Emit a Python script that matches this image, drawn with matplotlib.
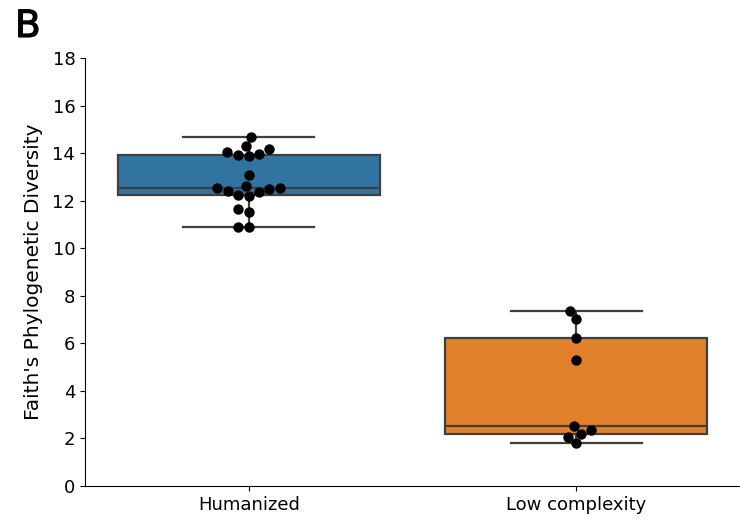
import matplotlib
matplotlib.use("Agg")
import matplotlib.pyplot as plt
import seaborn as sns
import pandas as pd

# Faith's PD per sample, by community type
groups = ["Humanized", "Low complexity"]
humanized_pd = [14.69, 14.30, 14.18, 14.05, 13.97, 13.92, 13.88, 13.08,
                12.62, 12.55, 12.52, 12.50, 12.42, 12.35, 12.25, 12.20,
                11.63, 11.54, 10.90, 10.90]
low_complexity_pd = [7.37, 7.01, 6.24, 5.30, 2.52, 2.36, 2.19, 2.07, 1.79]
y_ticks = [0, 2, 4, 6, 8, 10, 12, 14, 16, 18]

df = pd.DataFrame({
    "group": [groups[0]] * len(humanized_pd) + [groups[1]] * len(low_complexity_pd),
    "pd": humanized_pd + low_complexity_pd,
})

fig = plt.figure(figsize=(7.4, 5.2), dpi=100)
ax = fig.add_axes([85 / 740, 34 / 520, 655 / 740, 428 / 520])

sns.boxplot(data=df, x="group", y="pd", hue="group", order=groups,
            palette=["#1f77b4", "#ff7f0e"], saturation=0.75, showfliers=False,
            width=0.8, linewidth=1.6, ax=ax, legend=False)
sns.swarmplot(data=df, x="group", y="pd", order=groups, color="black",
              size=7.5, ax=ax)

ax.set_ylim(0, 18)
ax.set_xlim(-0.5, 1.5)
ax.set_yticks(y_ticks)
ax.tick_params(axis="both", labelsize=13)
ax.set_xlabel("")
ax.set_ylabel("Faith's Phylogenetic Diversity", fontsize=14.5, labelpad=7)
ax.spines["top"].set_visible(False)
ax.spines["right"].set_visible(False)

# Panel letter, drawn with a thin stroke for a slightly heavier look
import matplotlib.patheffects as pe
fig.text(15 / 740, 1 - 37 / 520, "B", fontsize=27, ha="left", va="baseline",
         path_effects=[pe.withStroke(linewidth=0.8, foreground="black")])

fig.savefig("out.png", dpi=100)
